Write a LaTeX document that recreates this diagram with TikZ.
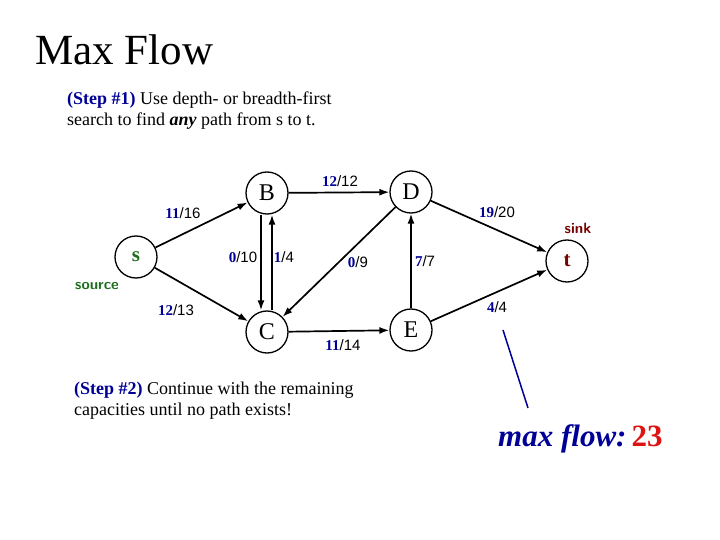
\documentclass[tikz,border=0pt]{standalone}
\usepackage{fontspec}
\setmainfont{Liberation Serif}
\newfontfamily\capfont{Liberation Sans}
\usetikzlibrary{arrows.meta}
\definecolor{flowblue}{RGB}{0,0,150}
\definecolor{srcgreen}{RGB}{30,110,30}
\definecolor{sinkred}{RGB}{120,0,0}
\definecolor{totalred}{RGB}{220,20,20}
\newcommand{\flowcap}[2]{{\bfseries\color{flowblue}#1}{\capfont/#2}}
\tikzset{
  vertex/.style={draw, circle, line width=1.3pt, minimum size=42pt, inner sep=0pt, font=\fontsize{24}{24}\selectfont},
  flow/.style={-{Latex[length=10pt,width=7pt]}, line width=1.7pt},
  caplabel/.style={font=\fontsize{15}{15}\selectfont, inner sep=0pt},
  note/.style={anchor=north west, align=left, inner sep=0pt, font=\fontsize{18}{21}\selectfont}
}
\begin{document}
\begin{tikzpicture}[x=1pt,y=-1pt]
\useasboundingbox (0,0) rectangle (720,540);
% title
\node[anchor=base west, inner sep=0pt, font=\fontsize{43}{43}\selectfont] (title) at (35,65) {Max Flow};
% notes
\node[note] (step1) at (67,92) {{\bfseries\color{flowblue}(Step \#1)} Use depth- or breadth-first\\search to find \textbf{\textit{any}} path from s to t.};
\node[note] (step2) at (74,382) {{\bfseries\color{flowblue}(Step \#2)} Continue with the remaining\\capacities until no path exists!};

% vertices
\node[vertex, font=\fontsize{21}{21}\selectfont\bfseries, text=srcgreen] (s) at (136,257) {s};
\node[vertex] (B) at (267,193) {B};
\node[vertex] (C) at (267,332) {C};
\node[vertex] (D) at (411,192) {D};
\node[vertex] (E) at (411,330) {E};
\node[vertex, font=\fontsize{21}{21}\selectfont\bfseries, text=sinkred] (t) at (567,261) {t};
\node[font=\fontsize{15}{15}\selectfont\sffamily\bfseries, text=srcgreen] (source) at (97,286) {source};
\node[font=\fontsize{15}{15}\selectfont\sffamily\bfseries, text=sinkred] (sink) at (578,228) {sink};

% edges
\draw[flow] (s) -- (B);
\draw[flow] (s) -- (C);
\draw[flow] ([xshift=-6pt]B.south) -- ([xshift=-6pt]C.north);
\draw[flow] ([xshift=5pt]C.north) -- ([xshift=5pt]B.south);
\draw[flow] (B) -- (D);
\draw[flow] (D) -- (C);
\draw[flow] (C) -- (E);
\draw[flow] (E) -- (D);
\draw[flow] (D) -- (t);
\draw[flow] (E) -- (t);

% flow / capacity
\node[caplabel] (sB) at (183,213) {\flowcap{11}{16}};
\node[caplabel] (sC) at (176,310) {\flowcap{12}{13}};
\node[caplabel] (BC) at (243,257) {\flowcap{0}{10}};
\node[caplabel] (CB) at (284,257) {\flowcap{1}{4}};
\node[caplabel] (BD) at (340,181) {\flowcap{12}{12}};
\node[caplabel] (DC) at (358,262) {\flowcap{0}{9}};
\node[caplabel] (CE) at (343,345) {\flowcap{11}{14}};
\node[caplabel] (ED) at (425,261) {\flowcap{7}{7}};
\node[caplabel] (Dt) at (497,212) {\flowcap{19}{20}};
\node[caplabel] (Et) at (497,307) {\flowcap{4}{4}};

% result
\node[anchor=base west, inner sep=0pt, font=\fontsize{31}{31}\selectfont\bfseries] (maxflow) at (498,446) {{\itshape\color{flowblue}max flow:}\,{\color{totalred}23}};
\coordinate (ptrtop) at (503,330);
\coordinate (ptrend) at (528,408);
\draw[flowblue, line width=1.5pt] (ptrend) -- (ptrtop);
\end{tikzpicture}
\end{document}
